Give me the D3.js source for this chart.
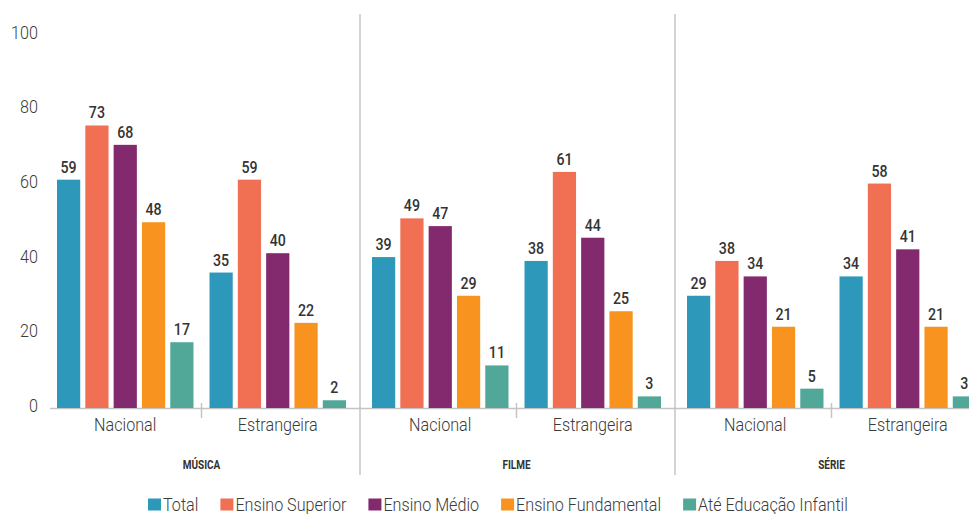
<!DOCTYPE html>
<html>
<head>
<meta charset="utf-8">
<script src="https://cdn.jsdelivr.net/npm/d3@7/dist/d3.min.js"></script>
<style>
  html, body { margin: 0; padding: 0; background: #fff; }
  svg { display: block; }
  text { font-family: Roboto, "DejaVu Sans Condensed", sans-serif; }
</style>
</head>
<body>
<svg id="chart" width="969" height="514"></svg>
<script>
// Media categories (panels) and origin groups inside each panel
const panels = ["MÚSICA", "FILME", "SÉRIE"];
const groups = ["Nacional", "Estrangeira"];
const series = ["Total", "Ensino Superior", "Ensino Médio", "Ensino Fundamental", "Até Educação Infantil"];
const colors = ["#2e98bb", "#f16f53", "#832a6f", "#f7931e", "#52a898"];

// Values in panel order: Música Nacional, Música Estrangeira, Filme Nacional, Filme Estrangeira, Série Nacional, Série Estrangeira
const total        = [59, 35, 39, 38, 29, 34];
const superior     = [73, 59, 49, 61, 38, 58];
const medio        = [68, 40, 47, 44, 34, 41];
const fundamental  = [48, 22, 29, 25, 21, 21];
const infantil     = [17, 2, 11, 3, 5, 3];
const yTicks = [0, 20, 40, 60, 80, 100];

const seriesValues = [total, superior, medio, fundamental, infantil];

const rows = [];
panels.forEach((p, pi) => {
  groups.forEach((g, gi) => {
    series.forEach((s, si) => {
      rows.push({ panel: p, group: g, series: s, value: seriesValues[si][pi * groups.length + gi] });
    });
  });
});

// Narrow look: squeeze text horizontally around its anchor point
const NARROW = 0.85;
function place(sel, fx, fy, k = NARROW) {
  sel.attr("transform", function (d, i) {
    return `translate(${fx(d, i)},${fy(d, i)}) scale(${k},1)`;
  });
}

const svg = d3.select("#chart");
const baseY = 408;

// Scales
const y = d3.scaleLinear().domain([0, 100]).range([baseY, 21]);
const yLabel = d3.scaleLinear().domain([0, 100]).range([405, 32]);
const xPanel = d3.scaleBand().domain(panels).range([43, 988]);
const panelPad = 14;
const xGroup = d3.scaleBand().domain(groups)
  .range([panelPad, xPanel.bandwidth() - panelPad + 2])
  .paddingInner(0.105);
const xSeries = d3.scaleBand().domain(series).range([0, xGroup.bandwidth()]).paddingInner(0.18);
const color = d3.scaleOrdinal().domain(series).range(colors);

// Y tick labels
svg.append("g")
  .selectAll("text")
  .data(yTicks)
  .join("text")
  .attr("dy", "0.36em")
  .attr("text-anchor", "end")
  .attr("fill", "#3a3a3a")
  .style("font-size", "19px")
  .style("font-weight", 300)
  .text(d => d)
  .call(place, () => 38, d => yLabel(d));

// Baseline
svg.append("line")
  .attr("x1", 50).attr("x2", 969)
  .attr("y1", baseY + 0.5).attr("y2", baseY + 0.5)
  .attr("stroke", "#c4c4c4").attr("stroke-width", 1.5);

// Panel separators
svg.append("g")
  .selectAll("line")
  .data(panels.slice(1))
  .join("line")
  .attr("x1", d => xPanel(d) + 2).attr("x2", d => xPanel(d) + 2)
  .attr("y1", 14).attr("y2", 475)
  .attr("stroke", "#c4c4c4").attr("stroke-width", 1.5);

const panelG = svg.append("g")
  .selectAll("g")
  .data(panels)
  .join("g")
  .attr("transform", d => `translate(${xPanel(d)},0)`);

// Short tick between the two groups of each panel
const midTick = xGroup("Estrangeira") - xGroup.step() * xGroup.paddingInner() / 2;
panelG.append("line")
  .attr("x1", midTick).attr("x2", midTick)
  .attr("y1", baseY - 5).attr("y2", baseY + 10)
  .attr("stroke", "#c4c4c4").attr("stroke-width", 1.5);

// Panel titles
panelG.append("text")
  .attr("text-anchor", "middle")
  .attr("fill", "#333")
  .style("font-size", "12.5px")
  .style("font-weight", "bold")
  .text(d => d)
  .call(place, () => (xGroup.range()[0] + xGroup.range()[1]) / 2, () => 469, 0.8);

const groupG = panelG.selectAll("g.grp")
  .data(p => groups.map(g => ({ panel: p, group: g })))
  .join("g")
  .attr("class", "grp")
  .attr("transform", d => `translate(${xGroup(d.group)},0)`);

// Group labels
groupG.append("text")
  .attr("text-anchor", "middle")
  .attr("fill", "#3a3a3a")
  .style("font-size", "19px")
  .style("font-weight", 300)
  .text(d => d.group)
  .call(place, () => xGroup.bandwidth() / 2, () => 431);

const barData = d => rows.filter(r => r.panel === d.panel && r.group === d.group);

// Bars
groupG.selectAll("rect")
  .data(barData)
  .join("rect")
  .attr("x", d => xSeries(d.series))
  .attr("width", xSeries.bandwidth())
  .attr("y", d => y(d.value))
  .attr("height", d => baseY - y(d.value))
  .attr("fill", d => color(d.series));

// Value labels
groupG.selectAll("text.val")
  .data(barData)
  .join("text")
  .attr("class", "val")
  .attr("text-anchor", "middle")
  .attr("fill", "#333")
  .style("font-size", "16.5px")
  .style("font-weight", 500)
  .text(d => d.value)
  .call(place, d => xSeries(d.series) + xSeries.bandwidth() / 2, d => y(d.value) - 7, 0.86);

// Legend
const legend = svg.append("g").attr("transform", "translate(148,0)");
let lx = 0;
series.forEach(s => {
  const item = legend.append("g").attr("transform", `translate(${lx},0)`);
  item.append("rect")
    .attr("x", 0).attr("y", 498.5)
    .attr("width", 13).attr("height", 12)
    .attr("fill", color(s));
  const t = item.append("text")
    .attr("fill", "#3a3a3a")
    .style("font-size", "19px")
    .style("font-weight", 300)
    .text(s)
    .call(place, () => 15, () => 510.5);
  lx += 15 + t.node().getComputedTextLength() * NARROW + 22;
});
</script>
</body>
</html>
